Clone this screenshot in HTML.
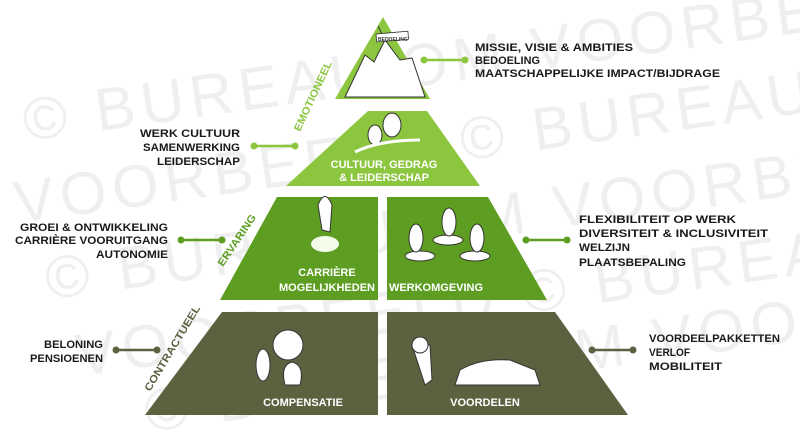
<!DOCTYPE html>
<html><head><meta charset="utf-8"><style>
html,body{margin:0;padding:0;background:#fff;width:800px;height:433px;overflow:hidden;}
svg{display:block;overflow:hidden;}
text{font-family:"Liberation Sans",sans-serif;font-weight:bold;text-transform:uppercase;}
.l{font-size:11px;fill:#1a1a1a;}
.w{font-size:11px;fill:#fff;}
.wm{font-family:"Liberation Sans",sans-serif;font-weight:normal;font-size:60px;fill:#efefef;letter-spacing:6px;}
</style></head><body>
<svg width="800" height="433" viewBox="0 0 800 433" xmlns="http://www.w3.org/2000/svg">
<g transform="rotate(-8 400 216)">
<text class="wm" x="40" y="90">© BUREAU OM VOORBEELD</text>
<text class="wm" x="20" y="170">VOORBEELD © BUREAU OM</text>
<text class="wm" x="40" y="250">© BUREAU OM VOORBEELD</text>
<text class="wm" x="60" y="330">VOORBEELD © BUREAU OM</text>
<text class="wm" x="120" y="395">© BUREAU OM VOORBEELD</text>
</g>
<!-- pyramid -->
<polygon points="383,17 430,99 335,99" fill="#8cc63f"/>
<polygon points="368,111 427,111 480,186 286,186" fill="#8cc63f"/>
<polygon points="277,197 378,197 378,300 220,300" fill="#5d9e22"/>
<polygon points="387,197 488,197 547,300 387,300" fill="#5d9e22"/>
<polygon points="222,312 378,312 378,415 145,415" fill="#5a6240"/>
<polygon points="387,312 555,312 628,415 387,415" fill="#5a6240"/>
<!-- illustrations -->
<polygon points="345,97 365,55 374,62 385,40 400,60 412,58 425,97" fill="#fff" stroke="#333" stroke-width="1"/>
<line x1="385" y1="40" x2="378" y2="26" stroke="#333"/>
<rect x="376" y="34" width="32" height="8" fill="#fff" stroke="#333" stroke-width="0.8" transform="rotate(-5 376 34)"/>
<text x="378" y="41" font-size="5" fill="#333">BEDOELING</text>
<ellipse cx="375" cy="135" rx="7" ry="10" fill="#fff" stroke="#333"/>
<ellipse cx="392" cy="125" rx="9" ry="12" fill="#fff" stroke="#333"/>
<path d="M355 152 Q380 140 420 140" stroke="#fff" stroke-width="3" fill="none"/>
<path d="M322 230 L318 205 Q325 188 332 205 L330 232 Z" fill="#fff" stroke="#333"/>
<ellipse cx="325" cy="244" rx="14" ry="8" fill="#f4fbe9"/>
<ellipse cx="420" cy="256" rx="15" ry="5" fill="#fff" stroke="#333"/>
<ellipse cx="448" cy="240" rx="15" ry="5" fill="#fff" stroke="#333"/>
<ellipse cx="475" cy="256" rx="15" ry="5" fill="#fff" stroke="#333"/>
<ellipse cx="416" cy="238" rx="7" ry="14" fill="#fff" stroke="#333"/>
<ellipse cx="449" cy="222" rx="7" ry="14" fill="#fff" stroke="#333"/>
<ellipse cx="477" cy="238" rx="7" ry="14" fill="#fff" stroke="#333"/>
<circle cx="288" cy="345" r="15" fill="#fff" stroke="#333"/>
<ellipse cx="263" cy="365" rx="7" ry="16" fill="#fff" stroke="#333"/>
<path d="M285 385 Q280 365 292 362 Q305 365 300 385 Z" fill="#fff" stroke="#333"/>
<path d="M455 385 L460 370 Q480 358 510 360 L535 370 L540 385 Z" fill="#fff" stroke="#333"/>
<path d="M412 345 L425 385 L432 380 L430 345 Z" fill="#fff" stroke="#333"/>
<circle cx="420" cy="345" r="8" fill="#fff" stroke="#333"/>
<!-- inner labels -->
<g text-anchor="middle">
<text class="w" x="384" y="168">CULTUUR, GEDRAG</text>
<text class="w" x="384" y="181">&amp; LEIDERSCHAP</text>
<text class="w" x="327" y="276">CARRIÈRE</text>
<text class="w" x="327" y="291">MOGELIJKHEDEN</text>
<text class="w" x="436" y="291">WERKOMGEVING</text>
<text class="w" x="303" y="406">COMPENSATIE</text>
<text class="w" x="485" y="406">VOORDELEN</text>
</g>
<!-- vertical labels -->
<text x="300" y="132" font-size="10.5" fill="#8cc63f" transform="rotate(-65 300 132)" textLength="76" lengthAdjust="spacingAndGlyphs">EMOTIONEEL</text>
<text x="223" y="267" font-size="10.5" fill="#5d9e22" transform="rotate(-56 223 267)" textLength="60" lengthAdjust="spacingAndGlyphs">ERVARING</text>
<text x="150" y="392" font-size="10.5" fill="#5a6240" transform="rotate(-59 150 392)" textLength="98" lengthAdjust="spacingAndGlyphs">CONTRACTUEEL</text>
<!-- connectors -->
<g stroke-width="2.5">
<line x1="424" y1="60" x2="465" y2="60" stroke="#8cc63f"/>
<line x1="254" y1="146" x2="295" y2="146" stroke="#8cc63f"/>
<line x1="181" y1="240" x2="222" y2="240" stroke="#5d9e22"/>
<line x1="526" y1="240" x2="567" y2="240" stroke="#5d9e22"/>
<line x1="116" y1="350" x2="157" y2="350" stroke="#5a6240"/>
<line x1="592" y1="350" x2="633" y2="350" stroke="#5a6240"/>
</g>
<g>
<circle cx="424" cy="60" r="3.5" fill="#8cc63f"/><circle cx="465" cy="60" r="3.5" fill="#8cc63f"/>
<circle cx="254" cy="146" r="3.5" fill="#8cc63f"/><circle cx="295" cy="146" r="3.5" fill="#8cc63f"/>
<circle cx="181" cy="240" r="3.5" fill="#5d9e22"/><circle cx="222" cy="240" r="3.5" fill="#5d9e22"/>
<circle cx="526" cy="240" r="3.5" fill="#5d9e22"/><circle cx="567" cy="240" r="3.5" fill="#5d9e22"/>
<circle cx="116" cy="350" r="3.5" fill="#5a6240"/><circle cx="157" cy="350" r="3.5" fill="#5a6240"/>
<circle cx="592" cy="350" r="3.5" fill="#5a6240"/><circle cx="633" cy="350" r="3.5" fill="#5a6240"/>
</g>
<!-- labels -->
<text class="l" x="475" y="51" textLength="158" lengthAdjust="spacingAndGlyphs">MISSIE, VISIE &amp; AMBITIES</text>
<text class="l" x="475" y="64" textLength="65" lengthAdjust="spacingAndGlyphs">BEDOELING</text>
<text class="l" x="475" y="77" textLength="245" lengthAdjust="spacingAndGlyphs">MAATSCHAPPELIJKE IMPACT/BIJDRAGE</text>
<text class="l" x="140" y="137" textLength="100" lengthAdjust="spacingAndGlyphs">WERK CULTUUR</text>
<text class="l" x="143" y="151" textLength="97" lengthAdjust="spacingAndGlyphs">SAMENWERKING</text>
<text class="l" x="157" y="165" textLength="83" lengthAdjust="spacingAndGlyphs">LEIDERSCHAP</text>
<text class="l" x="20" y="231" textLength="148" lengthAdjust="spacingAndGlyphs">GROEI &amp; ONTWIKKELING</text>
<text class="l" x="15" y="244" textLength="153" lengthAdjust="spacingAndGlyphs">CARRIÈRE VOORUITGANG</text>
<text class="l" x="96" y="258" textLength="72" lengthAdjust="spacingAndGlyphs">AUTONOMIE</text>
<text class="l" x="579" y="223" textLength="157" lengthAdjust="spacingAndGlyphs">FLEXIBILITEIT OP WERK</text>
<text class="l" x="579" y="237" textLength="189" lengthAdjust="spacingAndGlyphs">DIVERSITEIT &amp; INCLUSIVITEIT</text>
<text class="l" x="579" y="251" textLength="51" lengthAdjust="spacingAndGlyphs">WELZIJN</text>
<text class="l" x="579" y="266" textLength="107" lengthAdjust="spacingAndGlyphs">PLAATSBEPALING</text>
<text class="l" x="44" y="348" textLength="59" lengthAdjust="spacingAndGlyphs">BELONING</text>
<text class="l" x="30" y="362" textLength="73" lengthAdjust="spacingAndGlyphs">PENSIOENEN</text>
<text class="l" x="649" y="342" textLength="131" lengthAdjust="spacingAndGlyphs">VOORDEELPAKKETTEN</text>
<text class="l" x="649" y="356" textLength="41" lengthAdjust="spacingAndGlyphs">VERLOF</text>
<text class="l" x="649" y="370" textLength="73" lengthAdjust="spacingAndGlyphs">MOBILITEIT</text>
</svg>
</body></html>
